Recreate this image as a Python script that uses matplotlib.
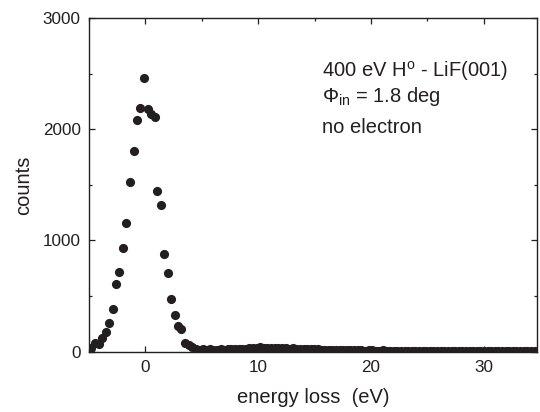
import numpy as np
import matplotlib
matplotlib.use("Agg")
import matplotlib.pyplot as plt

plt.rcParams['font.family'] = ['Liberation Sans', 'DejaVu Sans']
plt.rcParams['mathtext.fontset'] = 'custom'
plt.rcParams['mathtext.rm'] = 'Liberation Sans'
plt.rcParams['mathtext.it'] = 'Liberation Sans:italic'

# peak region (read point by point)
peak_x = [-4.78, -4.45, -4.15, -3.85, -3.5, -3.2, -2.9, -2.6, -2.31, -1.98,
          -1.69, -1.36, -1.04, -0.77, -0.45, -0.1, 0.2, 0.5, 0.83, 1.07,
          1.36, 1.69, 1.98, 2.31, 2.6, 2.87, 3.2, 3.53, 3.85, 4.15, 4.45, 4.75]
peak_y = [36, 75, 69, 123, 180, 260, 380, 607, 713, 931,
          1159, 1524, 1800, 2087, 2195, 2456, 2180, 2141, 2111, 1440,
          1320, 877, 707, 470, 332, 227, 200, 75, 63, 40, 25, 18]

# tail region, channel grid of 0.32 eV
tail_x = np.round(np.arange(5.07, 34.6, 0.32), 2)
tail_y = [22, 18, 20, 17, 19, 21, 18, 20, 22, 24,
          25, 28, 27, 30, 33, 36, 38, 35, 37, 34,
          36, 33, 30, 32, 28, 31, 26, 24, 27, 22,
          23, 20, 21, 18, 17, 19, 15, 16, 14, 15,
          13, 14, 12, 11, 13, 10, 12, 11, 9, 10,
          11, 9, 10, 8, 9, 10, 8, 7, 9, 8,
          7, 8, 6, 7, 9, 6, 7, 5, 6, 7,
          6, 5, 7, 6, 5, 4, 6, 5, 6, 5,
          4, 5, 6, 4, 5, 4, 3, 5, 4, 5,
          4, 3, 4]

x = list(peak_x) + list(tail_x)
y = peak_y + tail_y

ink = '#231f20'

fig = plt.figure(figsize=(5.4, 4.12), dpi=100)
ax = fig.add_axes([0.1648, 0.1464, 0.829, 0.81])

ax.axhline(0, color='#888888', linestyle='--', linewidth=0.8, dashes=(3, 3), zorder=1)
ax.plot(x, y, 'o', color=ink, markersize=6.6, markeredgewidth=0, zorder=3)

ax.set_xlim(-5, 34.7)
ax.set_ylim(0, 3000)
ax.set_xticks([0, 10, 20, 30])
ax.set_xticks([-5, 5, 15, 25], minor=True)
ax.set_yticks([0, 1000, 2000, 3000])
ax.set_yticks([500, 1500, 2500], minor=True)

ax.tick_params(which='both', direction='in', top=True, right=True,
               colors=ink, labelsize=12.3)
ax.tick_params(which='major', length=4.5, width=0.9, pad=6)
ax.tick_params(which='minor', length=2.2, width=0.9)
for s in ax.spines.values():
    s.set_linewidth(1.0)
    s.set_color(ink)

ax.set_xlabel('energy loss  (eV)', fontsize=14.5, color=ink, labelpad=9)
ax.set_ylabel('counts', fontsize=14.5, color=ink, labelpad=7)

ax.text(15.7, 2525, r'400 eV H$^{\rm o}$ - LiF(001)', fontsize=14.5, color=ink, va='center')
ax.text(15.7, 2290, r'$\Phi_{\rm in}$ = 1.8 deg', fontsize=14.5, color=ink, va='center')
ax.text(15.7, 2015, 'no electron', fontsize=14.5, color=ink, va='center')

fig.savefig('out.png', dpi=100)
